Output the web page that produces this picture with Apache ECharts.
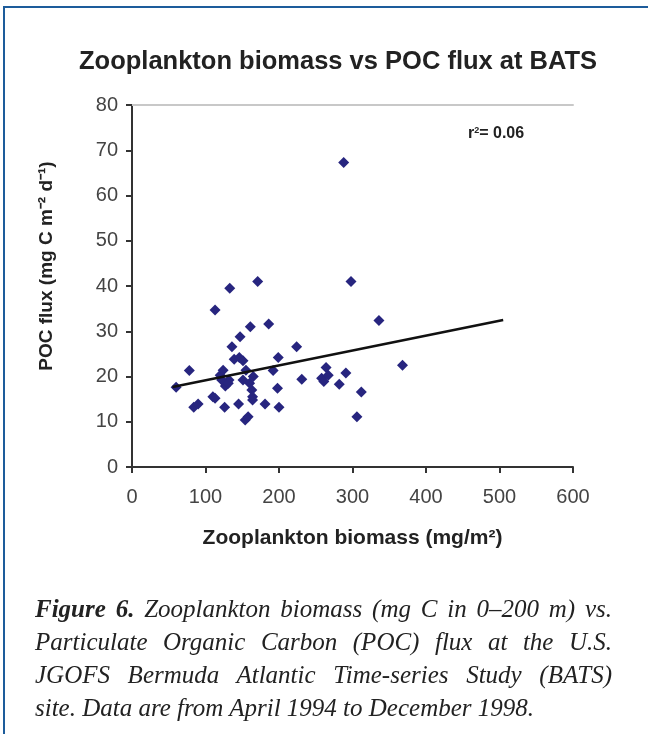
<!DOCTYPE html>
<html>
<head>
<meta charset="utf-8">
<script src="https://cdn.jsdelivr.net/npm/echarts@6/dist/echarts.min.js"></script>
<style>
  html, body { margin: 0; padding: 0; background: #fff; }
  .frame { position: relative; width: 648px; height: 734px; overflow: hidden; }
  .frame:before { content: ''; position: absolute; left: 3px; top: 6px; right: -4px; bottom: -4px;
    border-top: 2px solid #1d5c9b; border-left: 2px solid #1d5c9b; }
  #chart { position: absolute; left: 0; top: 0; width: 648px; height: 734px; }
  .caption { position: absolute; left: 35px; top: 592px; width: 577px;
    font-family: 'Liberation Serif', serif; font-style: italic; font-size: 25px; line-height: 33px; color: #222; }
  .caption .j { text-align: justify; text-align-last: justify; }
</style>
</head>
<body>
<div class="frame">
  <div id="chart"></div>
  <div class="caption">
    <div class="j"><b>Figure 6.</b> Zooplankton biomass (mg C in 0–200 m) vs.</div>
    <div class="j">Particulate Organic Carbon (POC) flux at the U.S.</div>
    <div class="j">JGOFS Bermuda Atlantic Time-series Study (BATS)</div>
    <div>site. Data are from April 1994 to December 1998.</div>
  </div>
</div>
<script>
// zooplankton biomass (mg/m2) and POC flux (mg C m-2 d-1)
var biomass = [60, 78, 84, 90, 110, 113, 113, 120, 124, 127, 126, 133, 136, 132, 139, 145, 147, 146, 151, 155,
  151, 154, 158, 161, 160, 163, 164, 164, 165, 171, 181, 186, 192, 199, 198, 200, 224, 231, 258, 264,
  261, 267, 282, 291, 298, 306, 312, 336, 368, 288, 122, 131];
var pocFlux = [17.6, 21.3, 13.2, 13.9, 15.5, 15.2, 34.7, 20.3, 21.4, 17.9, 13.2, 39.5, 26.6, 19.2, 23.8, 13.9, 28.8, 24.2, 23.5, 21.4,
  19.2, 10.4, 11.1, 31.0, 18.5, 17.0, 15.5, 14.8, 20.0, 41.0, 13.9, 31.6, 21.3, 24.2, 17.4, 13.2, 26.6, 19.4, 19.6, 22.0,
  18.9, 20.3, 18.3, 20.8, 41.0, 11.1, 16.6, 32.4, 22.5, 67.3, 19.2, 18.5];
// linear trend line end points
var trendX = [55, 505];
var trendY = [17.7, 32.5];

var points = biomass.map(function (b, i) { return [b, pocFlux[i]]; });
var trend = trendX.map(function (x, i) { return [x, trendY[i]]; });

var chart = echarts.init(document.getElementById('chart'));
var font = 'Liberation Sans, Arial, sans-serif';
chart.setOption({
  animation: false,
  title: {
    text: 'Zooplankton biomass vs POC flux at BATS',
    left: 74, top: 44,
    textStyle: { fontFamily: font, fontSize: 25.5, fontWeight: 'bold', color: '#222' }
  },
  grid: { left: 132, top: 105, width: 441, height: 362 },
  xAxis: [{
    type: 'value', min: 0, max: 600, interval: 100,
    name: 'Zooplankton biomass (mg/m²)', nameLocation: 'middle', nameGap: 61,
    nameTextStyle: { fontFamily: font, fontSize: 21, fontWeight: 'bold', color: '#222' },
    axisLine: { lineStyle: { color: '#333', width: 2 } },
    axisTick: { length: 6, lineStyle: { color: '#333', width: 2 } },
    axisLabel: { margin: 20, fontFamily: font, fontSize: 20, color: '#444' },
    splitLine: { show: false }
  }, {
    type: 'value', min: 0, max: 600, position: 'top',
    axisLine: { lineStyle: { color: '#c8c8c8', width: 2 } },
    axisTick: { show: false }, axisLabel: { show: false }, splitLine: { show: false }
  }],
  yAxis: {
    type: 'value', min: 0, max: 80, interval: 10,
    name: 'POC flux (mg C m⁻² d⁻¹)', nameLocation: 'middle', nameGap: 76,
    nameTextStyle: { fontFamily: font, fontSize: 19, fontWeight: 'bold', color: '#222', padding: [0, 0, 0, 40] },
    axisLine: { lineStyle: { color: '#333', width: 2 } },
    axisTick: { length: 6, lineStyle: { color: '#333', width: 2 } },
    axisLabel: { margin: 14, fontFamily: font, fontSize: 20, color: '#444' },
    splitLine: { show: false }
  },
  series: [{
    type: 'scatter', data: points, symbol: 'diamond', symbolSize: 11,
    itemStyle: { color: '#27257f', opacity: 1 }
  }, {
    type: 'line', data: trend, showSymbol: false,
    lineStyle: { color: '#111', width: 2.5 }
  }],
  graphic: [{
    type: 'text', left: 468, top: 126,
    style: {
      text: '{b|r}{s|2}{b|= 0.06}',
      rich: {
        b: { fontFamily: font, fontSize: 16, fontWeight: 'bold', fill: '#222' },
        s: { fontFamily: font, fontSize: 9, fontWeight: 'bold', fill: '#222', verticalAlign: 'top', padding: [0, 0, 6, 0] }
      }
    }
  }]
});
</script>
</body>
</html>
